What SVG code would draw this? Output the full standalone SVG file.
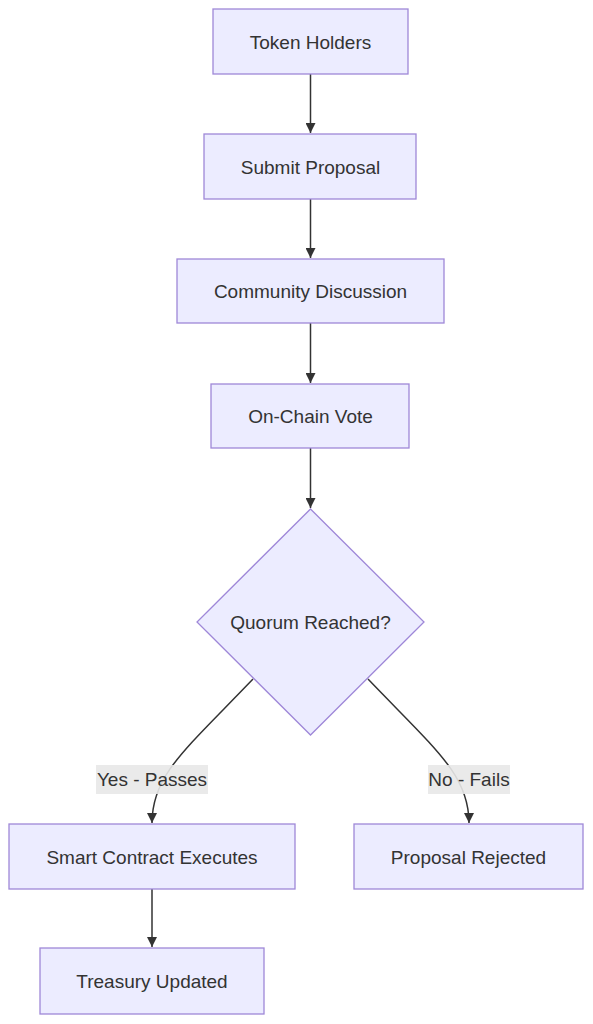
<svg xmlns="http://www.w3.org/2000/svg" width="593" height="1024" viewBox="0 0 593 1024">
<defs>
<style>
.node{fill:#ECECFF;stroke:#9f88d8;stroke-width:1.3}
.lbl{font-family:"Liberation Sans",Arial,sans-serif;font-size:19px;fill:#333;text-anchor:middle;dominant-baseline:central}
.edge{fill:none;stroke:#333;stroke-width:1.5}
.ebg{fill:#e8e8e8;opacity:0.9}
</style>
<marker id="arr" viewBox="0 0 10 10" refX="10" refY="5" markerWidth="10" markerHeight="10" markerUnits="userSpaceOnUse" orient="auto">
<path d="M0,0 L10,5 L0,10 z" fill="#333"/>
</marker>
</defs>
<rect width="593" height="1024" fill="#fff"/>
<g id="connectors">
<path class="edge" d="M310.5,74 L310.5,133" marker-end="url(#arr)"/>
<path class="edge" d="M310.5,199 L310.5,258" marker-end="url(#arr)"/>
<path class="edge" d="M310.5,323 L310.5,383" marker-end="url(#arr)"/>
<path class="edge" d="M310.5,448 L310.5,508" marker-end="url(#arr)"/>
<path class="edge" d="M253,679 C185,750 152,775 152,823" marker-end="url(#arr)"/>
<path class="edge" d="M368,679 C436,750 469,775 469,823" marker-end="url(#arr)"/>
<path class="edge" d="M152,889 L152,947" marker-end="url(#arr)"/>
<g id="label-yes"><rect class="ebg" x="96" y="765" width="112" height="29"/><text class="lbl" x="152" y="779">Yes - Passes</text></g>
<g id="label-no"><rect class="ebg" x="428" y="765" width="82" height="29"/><text class="lbl" x="469" y="779">No - Fails</text></g>
</g>
<g id="n1"><rect class="node" x="213" y="9" width="195" height="65"/><text class="lbl" x="310.5" y="42">Token Holders</text></g>
<g id="n2"><rect class="node" x="204" y="134" width="212" height="65"/><text class="lbl" x="310.5" y="167">Submit Proposal</text></g>
<g id="n3"><rect class="node" x="177" y="259" width="267" height="64"/><text class="lbl" x="310.5" y="291">Community Discussion</text></g>
<g id="n4"><rect class="node" x="211" y="384" width="198" height="64"/><text class="lbl" x="310.5" y="416">On-Chain Vote</text></g>
<g id="n5"><polygon class="node" points="310.5,509 424,622 310.5,735 197,622"/><text class="lbl" x="310.5" y="622">Quorum Reached?</text></g>
<g id="n6"><rect class="node" x="9" y="824" width="286" height="65"/><text class="lbl" x="152" y="857">Smart Contract Executes</text></g>
<g id="n7"><rect class="node" x="354" y="824" width="229" height="65"/><text class="lbl" x="468.5" y="857">Proposal Rejected</text></g>
<g id="n8"><rect class="node" x="40" y="948" width="224" height="66"/><text class="lbl" x="152" y="981">Treasury Updated</text></g>
</svg>
